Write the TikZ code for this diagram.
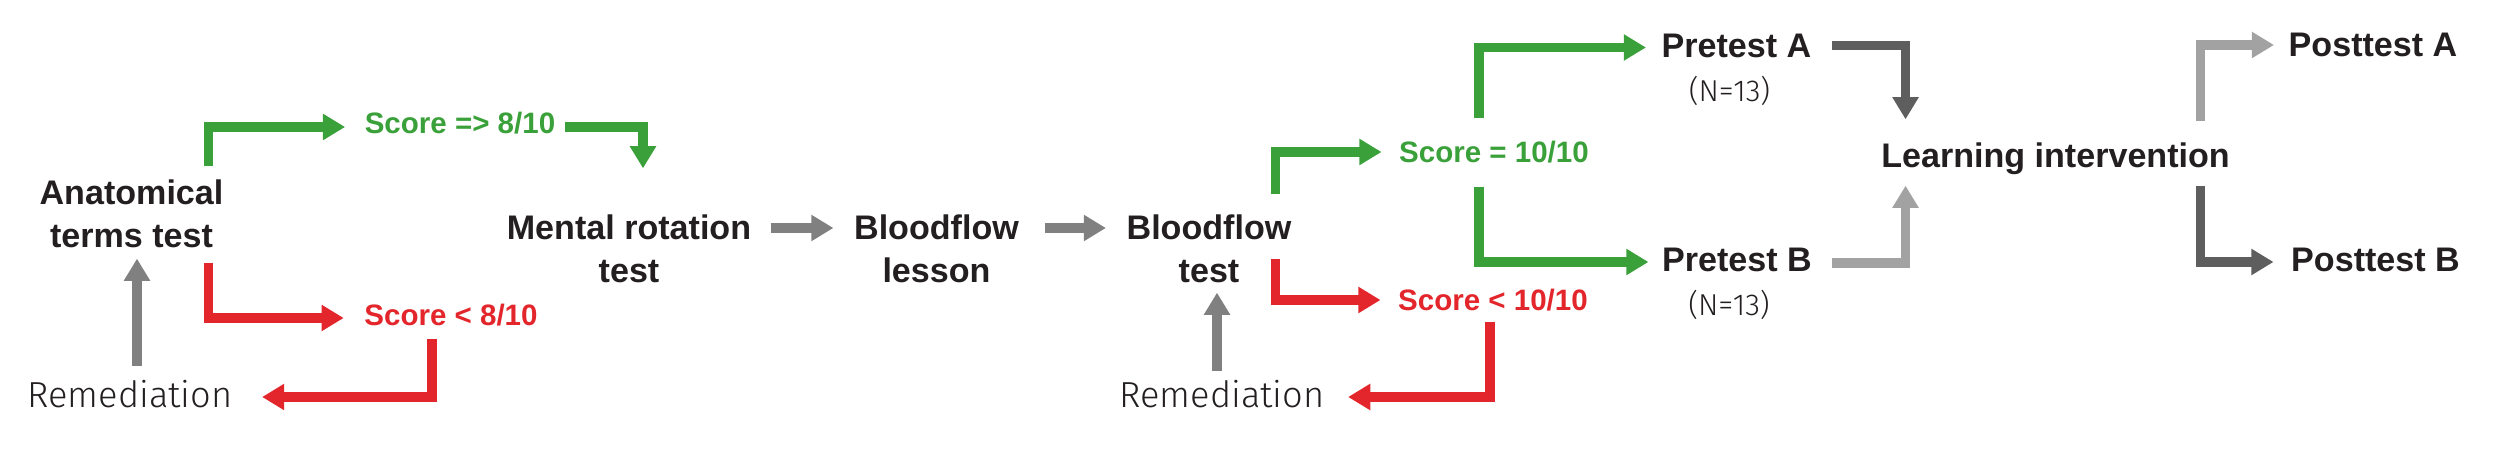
\documentclass[tikz,border=0pt]{standalone}
\usepackage{fontspec}
\setmainfont{Liberation Sans}
\newfontfamily\lightfont{Fira Sans Light}
\usepackage{xcolor}
\usepackage{tikz}
\usetikzlibrary{arrows.meta,positioning}

\definecolor{ink}{HTML}{231F20}
\definecolor{okgreen}{HTML}{3AA03A}
\definecolor{errred}{HTML}{E3262B}
\definecolor{midgray}{HTML}{808080}
\definecolor{shadedark}{HTML}{5E5E5E}
\definecolor{shadelight}{HTML}{A2A2A2}

\begin{document}
\begin{tikzpicture}[
    node distance=2cm,
    stage/.style={inner sep=0pt, align=center, text=ink, font=\fontsize{9.7pt}{12.2pt}\selectfont\bfseries},
    score/.style={inner sep=0pt, font=\fontsize{8.4pt}{10pt}\selectfont\bfseries},
    note/.style={inner sep=0pt, text=ink, font=\fontsize{10.3pt}{12pt}\selectfont\lightfont},
    count/.style={inner sep=0pt, text=ink, font=\fontsize{8.6pt}{10pt}\selectfont\lightfont},
    link/.style={line width=2.6pt, line join=miter, -{Triangle[length=6.3pt,width=7.1pt]}},
    passline/.style={link, draw=okgreen},
    failline/.style={link, draw=errred},
    grayline/.style={link, draw=midgray},
    darkline/.style={link, draw=shadedark},
    lightline/.style={link, draw=shadelight}
]
\useasboundingbox (0,0) rectangle (25,-4.51);

\node [stage] (anat) at (1.315,-2.14) {Anatomical\\terms test};
\node [score, text=okgreen] (pass1) at (4.60,-1.23) {Score => 8/10};
\node [score, text=errred] (fail1) at (4.51,-3.15) {Score < 8/10};
\node [note] (remedA) at (1.30,-3.945) {Remediation};
\node [stage] (mental) at (6.29,-2.49) {Mental rotation\\test};
\node [stage, right of=mental, node distance=3.075cm] (lesson) {Bloodflow\\lesson};
\node [stage, right of=lesson, node distance=2.725cm] (bftest) {Bloodflow\\test};
\node [score, text=okgreen] (pass2) at (14.94,-1.52) {Score = 10/10};
\node [score, text=errred] (fail2) at (14.93,-3.00) {Score < 10/10};
\node [note] (remedB) at (12.22,-3.945) {Remediation};
\node [stage] (preA) at (17.365,-0.455) {Pretest A};
\node [count, below of=preA, node distance=0.45cm, xshift=-0.07cm] (nA) {(N=13)};
\node [stage] (preB) at (17.37,-2.595) {Pretest B};
\node [count, below of=preB, node distance=0.45cm, xshift=-0.08cm] (nB) {(N=13)};
\node [stage] (learn) at (20.555,-1.59) {Learning intervention};
\node [stage] (postA) at (23.73,-0.45) {Posttest A};
\node [stage] (postB) at (23.755,-2.595) {Posttest B};

\draw [passline, shorten <=0.13cm, shorten >=0.19cm] ([xshift=-0.16cm]anat.north east) |- ([yshift=-0.04cm]pass1.west);
\draw [passline, shorten <=0.09cm, shorten >=0.46cm] ([yshift=-0.04cm]pass1.east) -| ([xshift=0.14cm]mental.north);
\draw [failline, shorten <=0.14cm, shorten >=0.2cm] ([xshift=-0.16cm]anat.south east) |- ([yshift=-0.03cm]fail1.west);
\draw [failline, shorten <=0.12cm, shorten >=0.29cm] ([xshift=-0.19cm]fail1.south) |- ([yshift=-0.025cm]remedA.east);
\draw [grayline, shorten <=0.14cm, shorten >=0.1cm] ([xshift=0.07cm]remedA.north) -- ([xshift=0.07cm]remedA.north |- anat.south);

\draw [grayline, shorten <=0.19cm, shorten >=0.2cm] ([yshift=0.21cm]mental.east) -- ([yshift=0.21cm]lesson.west);
\draw [grayline, shorten <=0.25cm, shorten >=0.2cm] ([yshift=0.21cm]lesson.east) -- ([yshift=0.21cm]bftest.west);

\draw [passline, shorten <=0.2cm, shorten >=0.17cm] ([xshift=-0.17cm]bftest.north east) |- (pass2.west);
\draw [failline, shorten >=0.17cm] ([xshift=-0.17cm,yshift=0.25cm]bftest.south east) |- (fail2.west);
\draw [passline, shorten <=0.22cm, shorten >=0.15cm] ([xshift=-0.15cm]pass2.north) |- ([yshift=-0.02cm]preA.west);
\draw [passline, shorten <=0.23cm, shorten >=0.13cm] ([xshift=-0.15cm]pass2.south) |- ([yshift=-0.025cm]preB.west);
\draw [failline, shorten <=0.1cm, shorten >=0.23cm] ([xshift=-0.03cm]fail2.south) |- ([yshift=-0.025cm]remedB.east);
\draw [grayline, shorten <=0.09cm, shorten >=0.09cm] ([xshift=-0.05cm]remedB.north) -- ([xshift=-0.05cm]remedB.north |- bftest.south);

\draw [darkline, shorten <=0.2cm, shorten >=0.23cm] (preA.east) -| ([xshift=0.25cm]learn.north west);
\draw [lightline, shorten <=0.19cm, shorten >=0.1cm] ([yshift=-0.035cm]preB.east) -| ([xshift=0.25cm]learn.south west);
\draw [lightline, shorten <=0.21cm, shorten >=0.14cm] ([xshift=-0.3cm]learn.north east) |- (postA.west);
\draw [darkline, shorten <=0.1cm, shorten >=0.17cm] ([xshift=-0.3cm]learn.south east) |- ([yshift=-0.025cm]postB.west);

\end{tikzpicture}
\end{document}
